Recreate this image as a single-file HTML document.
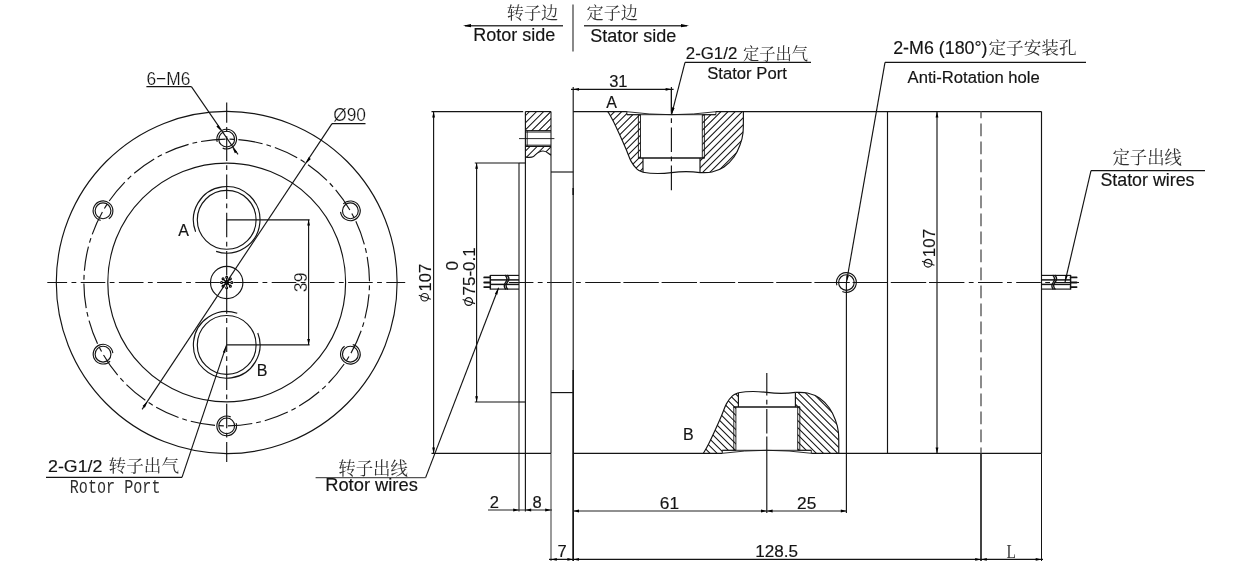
<!DOCTYPE html>
<html><head><meta charset="utf-8"><title>Slip ring drawing</title>
<style>html,body{margin:0;padding:0;background:#fff}svg{display:block}</style>
</head><body>
<svg width="1235" height="571" viewBox="0 0 1235 571" style="will-change:transform">
<rect width="1235" height="571" fill="#fff"/>
<g fill="none" stroke="#141414" stroke-width="1.15">
<ellipse cx="226.7" cy="282.5" rx="170.4" ry="171.08"/>
<ellipse cx="226.7" cy="282.5" rx="118.9" ry="119.38"/>
<ellipse cx="226.7" cy="282.5" rx="142.8" ry="143.37" stroke-dasharray="24.6 4 4.84 4" stroke-dashoffset="25.68"/>
<line x1="47.3" y1="282.5" x2="405.2" y2="282.5" stroke-dasharray="24.6 4.4 4.8 4.4" stroke-dashoffset="4.8"/>
<line x1="226.7" y1="102.6" x2="226.7" y2="462" stroke-dasharray="24.6 4.4 4.8 4.4" stroke-dashoffset="4.5"/>
<circle cx="226.7" cy="282.5" r="16.2"/>
<circle cx="231.85" cy="282.5" r="1" stroke="#000" stroke-width="1.05"/>
<circle cx="230.34" cy="286.14" r="1" stroke="#000" stroke-width="1.05"/>
<circle cx="226.7" cy="287.65" r="1" stroke="#000" stroke-width="1.05"/>
<circle cx="223.06" cy="286.14" r="1" stroke="#000" stroke-width="1.05"/>
<circle cx="221.55" cy="282.5" r="1" stroke="#000" stroke-width="1.05"/>
<circle cx="223.06" cy="278.86" r="1" stroke="#000" stroke-width="1.05"/>
<circle cx="226.7" cy="277.35" r="1" stroke="#000" stroke-width="1.05"/>
<circle cx="230.34" cy="278.86" r="1" stroke="#000" stroke-width="1.05"/>
<circle cx="226.7" cy="282.5" r="2.2" fill="#000" stroke="none"/>
<line x1="226.7" y1="282.5" x2="230.8" y2="282.5" stroke="#000" stroke-width="1.2"/>
<line x1="226.7" y1="282.5" x2="229.6" y2="285.4" stroke="#000" stroke-width="1.2"/>
<line x1="226.7" y1="282.5" x2="226.7" y2="286.6" stroke="#000" stroke-width="1.2"/>
<line x1="226.7" y1="282.5" x2="223.8" y2="285.4" stroke="#000" stroke-width="1.2"/>
<line x1="226.7" y1="282.5" x2="222.6" y2="282.5" stroke="#000" stroke-width="1.2"/>
<line x1="226.7" y1="282.5" x2="223.8" y2="279.6" stroke="#000" stroke-width="1.2"/>
<line x1="226.7" y1="282.5" x2="226.7" y2="278.4" stroke="#000" stroke-width="1.2"/>
<line x1="226.7" y1="282.5" x2="229.6" y2="279.6" stroke="#000" stroke-width="1.2"/>
<circle cx="226.7" cy="139.13" r="7.9"/>
<path d="M217.23 141.84 A9.85 9.85 0 1 1 222.69 148.13" fill="none"/>
<circle cx="350.37" cy="210.81" r="7.9"/>
<path d="M343.28 203.97 A9.85 9.85 0 1 1 340.57 211.84" fill="none"/>
<circle cx="350.37" cy="354.19" r="7.9"/>
<path d="M352.75 344.63 A9.85 9.85 0 1 1 344.58 346.22" fill="none"/>
<circle cx="226.7" cy="425.87" r="7.9"/>
<path d="M236.17 423.16 A9.85 9.85 0 1 1 230.71 416.87" fill="none"/>
<circle cx="103.03" cy="354.19" r="7.9"/>
<path d="M110.12 361.03 A9.85 9.85 0 1 1 112.83 353.16" fill="none"/>
<circle cx="103.03" cy="210.81" r="7.9"/>
<path d="M100.65 220.37 A9.85 9.85 0 1 1 108.82 218.78" fill="none"/>
<circle cx="226.7" cy="219.8" r="29.4"/>
<path d="M195.61 231.73 A33.3 33.3 0 1 1 216.13 251.38" fill="none"/>
<circle cx="226.7" cy="344.9" r="29.4"/>
<path d="M257.79 332.97 A33.3 33.3 0 1 1 237.27 313.32" fill="none"/>
<line x1="226.7" y1="219.8" x2="309.6" y2="219.8"/>
<line x1="226.7" y1="344.9" x2="309.6" y2="344.9"/>
<line x1="308.6" y1="219.8" x2="308.6" y2="344.9"/>
<path d="M308.6 219.8 L310 225.6 L307.2 225.6 Z" fill="#000" stroke="none"/>
<path d="M308.6 344.9 L307.2 339.1 L310 339.1 Z" fill="#000" stroke="none"/>
<line x1="332" y1="123.6" x2="142.09" y2="409.37"/>
<line x1="332" y1="123.6" x2="365.5" y2="123.6"/>
<path d="M306.04 163.53 L308.48 157.35 L310.81 158.9 Z" fill="#000" stroke="none"/>
<path d="M147.36 401.47 L144.92 407.65 L142.59 406.1 Z" fill="#000" stroke="none"/>
<line x1="146.4" y1="86.6" x2="191.4" y2="86.6"/>
<line x1="191.4" y1="86.6" x2="238" y2="154.4"/>
<path d="M221.12 131.01 L216.37 126.39 L218.51 124.92 Z" fill="#000" stroke="none"/>
<path d="M232.28 147.25 L237.03 151.87 L234.89 153.34 Z" fill="#000" stroke="none"/>
<line x1="46" y1="477.4" x2="182" y2="477.4"/>
<line x1="182" y1="477.4" x2="226.4" y2="345.4"/>
<path d="M226.4 345.4 L225.15 352.89 L222.87 352.13 Z" fill="#000" stroke="none"/>
<line x1="573.2" y1="87" x2="573.2" y2="561"/>
<line x1="573.2" y1="370" x2="573.2" y2="561" stroke-width="1.5"/>
<line x1="573.2" y1="188" x2="573.2" y2="195" stroke-width="1.6"/>
<line x1="573.2" y1="111.6" x2="626.9" y2="111.6"/>
<line x1="715.9" y1="111.6" x2="1041.5" y2="111.6"/>
<line x1="573.2" y1="453.4" x2="722.3" y2="453.4"/>
<line x1="811.3" y1="453.4" x2="1041.5" y2="453.4"/>
<line x1="1041.5" y1="111.6" x2="1041.5" y2="453.4"/>
<line x1="1041.5" y1="453.4" x2="1041.5" y2="561" stroke-width="1"/>
<line x1="887.5" y1="111.6" x2="887.5" y2="453.4"/>
<line x1="981" y1="111.6" x2="981" y2="453.4" stroke="#666" stroke-width="1.5" stroke-dasharray="12.8 5.2" stroke-dashoffset="6.2"/>
<line x1="981" y1="453.4" x2="981" y2="561" stroke-width="1.6"/>
<line x1="509" y1="282.5" x2="961.5" y2="282.5" stroke-dasharray="24.6 4.4 4.8 4.4" stroke-dashoffset="0.2"/>
<line x1="596" y1="282.5" x2="1080" y2="282.5" stroke-dasharray="24.6 4.4 4.8 4.4" stroke-dashoffset="0"/>
<line x1="525.4" y1="111.6" x2="525.4" y2="511.5"/>
<line x1="551" y1="111.6" x2="551" y2="453.4" stroke="#2a2a2a"/>
<line x1="551" y1="453.4" x2="551" y2="561" stroke="#585858" stroke-width="1.2"/>
<line x1="525.4" y1="111.6" x2="551" y2="111.6"/>
<line x1="519" y1="163" x2="519" y2="402" stroke="#222"/>
<line x1="519" y1="402" x2="519" y2="511.5" stroke="#333" stroke-width="1.15"/>
<line x1="519" y1="163" x2="525.4" y2="163"/>
<line x1="519" y1="402" x2="525.4" y2="402"/>
<line x1="551" y1="172" x2="573.2" y2="172"/>
<line x1="551" y1="392.6" x2="573.2" y2="392.6"/>
<clipPath id="c1"><path d="M525.4 111.6 H551 V131 H525.4 Z"/></clipPath>
<path clip-path="url(#c1)" stroke-width="1.05" d="M502.03 132 L523.03 111 M509.12 132 L530.12 111 M516.21 132 L537.21 111 M523.3 132 L544.3 111 M530.39 132 L551.39 111 M537.48 132 L558.48 111 M544.57 132 L565.57 111 M551.66 132 L572.66 111 M558.75 132 L579.75 111"/>
<clipPath id="c2"><path d="M525.4 146.3 H551 V155.2 C548.5 154 547 151 543 151 C538.5 151 536.5 154 533.5 156.5 C531 158 529 157.6 525.4 157 Z"/></clipPath>
<path clip-path="url(#c2)" stroke-width="1.05" d="M510.48 159 L523.48 146 M517.57 159 L530.57 146 M524.66 159 L537.66 146 M531.75 159 L544.75 146 M538.84 159 L551.84 146 M545.93 159 L558.93 146 M553.02 159 L566.02 146"/>
<path d="M525.4 157 C529 157.6 531 158 533.5 156.5 C536.5 154 538.5 151 543 151 C547 151 548.5 154 551 155.2" fill="none"/>
<line x1="525.4" y1="130.6" x2="551" y2="130.6" stroke-width="1"/>
<line x1="525.4" y1="132" x2="551" y2="132" stroke-width="1"/>
<line x1="525.4" y1="145.2" x2="551" y2="145.2" stroke-width="1"/>
<line x1="525.4" y1="146.5" x2="551" y2="146.5" stroke-width="1"/>
<line x1="527.2" y1="131" x2="527.2" y2="146.3" stroke-width="0.9"/>
<line x1="519" y1="138.6" x2="554.4" y2="138.6" stroke-width="0.9"/>
<line x1="433.6" y1="111.6" x2="433.6" y2="453.4"/>
<path d="M433.6 111.6 L435 117.4 L432.2 117.4 Z" fill="#000" stroke="none"/>
<path d="M433.6 453.4 L432.2 447.6 L435 447.6 Z" fill="#000" stroke="none"/>
<line x1="431.5" y1="111.6" x2="523.2" y2="111.6"/>
<line x1="431.5" y1="453.4" x2="551" y2="453.4"/>
<line x1="476.6" y1="163" x2="476.6" y2="402"/>
<path d="M476.6 163 L478 168.8 L475.2 168.8 Z" fill="#000" stroke="none"/>
<path d="M476.6 402 L475.2 396.2 L478 396.2 Z" fill="#000" stroke="none"/>
<line x1="474.8" y1="163" x2="519" y2="163"/>
<line x1="474.8" y1="402" x2="519" y2="402"/>
<line x1="490.3" y1="275.4" x2="519" y2="275.4" stroke-width="1.15"/>
<line x1="490.3" y1="279.9" x2="519" y2="279.9" stroke-width="1.5"/>
<line x1="490.3" y1="284.4" x2="519" y2="284.4" stroke-width="1.5"/>
<line x1="490.3" y1="289.1" x2="519" y2="289.1" stroke-width="1.15"/>
<line x1="490.3" y1="274.9" x2="490.3" y2="289.6" stroke-width="1.4"/>
<line x1="484.2" y1="277.4" x2="490.3" y2="277.4" stroke-width="1.8" stroke-linecap="round"/>
<line x1="484.2" y1="282.5" x2="490.3" y2="282.5" stroke-width="1.8" stroke-linecap="round"/>
<line x1="484.2" y1="287.1" x2="490.3" y2="287.1" stroke-width="1.8" stroke-linecap="round"/>
<path d="M504.9 275 C507.4 277.4 507.4 280 505.6 282.3 C503.8 284.6 503.8 287 505.8 289.5" fill="none" stroke-width="1.35"/>
<path d="M507.0 275 C509.4 277.4 509.4 280 507.4 282.3 C505.4 284.6 505.6 287 507.8 289.5" fill="none" stroke-width="1.35"/>
<line x1="315.6" y1="477.6" x2="425.6" y2="477.6" stroke="#555"/>
<line x1="425.6" y1="477.6" x2="498.6" y2="287.8"/>
<path d="M498.6 287.8 L497.3 294.8 L494.87 293.87 Z" fill="#000" stroke="none"/>
<line x1="1041.5" y1="275.4" x2="1070.6" y2="275.4" stroke-width="1.15"/>
<line x1="1041.5" y1="279.9" x2="1070.6" y2="279.9" stroke-width="1.5"/>
<line x1="1041.5" y1="284.4" x2="1070.6" y2="284.4" stroke-width="1.5"/>
<line x1="1041.5" y1="289.1" x2="1070.6" y2="289.1" stroke-width="1.15"/>
<line x1="1070.6" y1="274.9" x2="1070.6" y2="289.6" stroke-width="1.4"/>
<line x1="1070.6" y1="277.4" x2="1076.6" y2="277.4" stroke-width="1.8" stroke-linecap="round"/>
<line x1="1070.6" y1="282.5" x2="1076.6" y2="282.5" stroke-width="1.8" stroke-linecap="round"/>
<line x1="1070.6" y1="287.1" x2="1076.6" y2="287.1" stroke-width="1.8" stroke-linecap="round"/>
<path d="M1052.6 275 C1055 277.4 1055 280 1053.2 282.3 C1051.4 284.6 1051.4 287 1053.4 289.5" fill="none" stroke-width="1.35"/>
<path d="M1054.7 275 C1057 277.4 1057 280 1055 282.3 C1053 284.6 1053.2 287 1055.4 289.5" fill="none" stroke-width="1.35"/>
<line x1="1091" y1="170.6" x2="1205" y2="170.6"/>
<line x1="1091" y1="170.6" x2="1065" y2="282"/>
<path d="M1065 282 L1065.42 274.91 L1067.76 275.46 Z" fill="#000" stroke="none"/>
<clipPath id="c3"><path d="M607.9 111.6 C608.78 113.18 611.22 117.18 613.2 121.1 C615.18 125.02 617.67 130.43 619.8 135.1 C621.93 139.77 624.13 144.77 626 149.1 C627.87 153.43 629.17 157.77 631 161.1 C632.83 164.43 635 167.25 637 169.1 C639 170.95 642 171.68 643 172.2 L643 158 L640.5 158 L640.5 114.7 L626.9 114.7 L626.9 111.8 Z"/></clipPath>
<path clip-path="url(#c3)" stroke-width="1.05" d="M537.42 174.6 L600.42 111.6 M544.51 174.6 L607.51 111.6 M551.6 174.6 L614.6 111.6 M558.69 174.6 L621.69 111.6 M565.78 174.6 L628.78 111.6 M572.87 174.6 L635.87 111.6 M579.96 174.6 L642.96 111.6 M587.05 174.6 L650.05 111.6 M594.14 174.6 L657.14 111.6 M601.23 174.6 L664.23 111.6 M608.32 174.6 L671.32 111.6 M615.41 174.6 L678.41 111.6 M622.5 174.6 L685.5 111.6 M629.59 174.6 L692.59 111.6 M636.68 174.6 L699.68 111.6 M643.77 174.6 L706.77 111.6 M650.86 174.6 L713.86 111.6"/>
<clipPath id="c4"><path d="M700 172.6 C702 172.5 708 172.93 712 172 C716 171.07 720.33 169.5 724 167 C727.67 164.5 731.33 160.67 734 157 C736.67 153.33 738.5 149 740 145 C741.5 141 742.43 138.57 743 133 C743.57 127.43 743.33 115.17 743.4 111.6 L715.9 111.8 L715.9 114.7 L702.3 114.7 L702.3 158 L700 158 L700 172.6 Z"/></clipPath>
<path clip-path="url(#c4)" stroke-width="1.05" d="M629.59 174.6 L692.59 111.6 M636.68 174.6 L699.68 111.6 M643.77 174.6 L706.77 111.6 M650.86 174.6 L713.86 111.6 M657.95 174.6 L720.95 111.6 M665.04 174.6 L728.04 111.6 M672.13 174.6 L735.13 111.6 M679.22 174.6 L742.22 111.6 M686.31 174.6 L749.31 111.6 M693.4 174.6 L756.4 111.6 M700.49 174.6 L763.49 111.6 M707.58 174.6 L770.58 111.6 M714.67 174.6 L777.67 111.6 M721.76 174.6 L784.76 111.6 M728.85 174.6 L791.85 111.6 M735.94 174.6 L798.94 111.6 M743.03 174.6 L806.03 111.6 M750.12 174.6 L813.12 111.6"/>
<path d="M607.9 111.6 C608.78 113.18 611.22 117.18 613.2 121.1 C615.18 125.02 617.67 130.43 619.8 135.1 C621.93 139.77 624.13 144.77 626 149.1 C627.87 153.43 629.17 157.77 631 161.1 C632.83 164.43 635 167.25 637 169.1 C639 170.95 642 171.68 643 172.2" fill="none"/>
<path d="M700 172.6 C702 172.5 708 172.93 712 172 C716 171.07 720.33 169.5 724 167 C727.67 164.5 731.33 160.67 734 157 C736.67 153.33 738.5 149 740 145 C741.5 141 742.43 138.57 743 133 C743.57 127.43 743.33 115.17 743.4 111.6" fill="none"/>
<path d="M643 172.2 C653.4 174.2 662.4 173.8 671.4 172.6 S690.4 171.2 700 172.6" fill="none"/>
<line x1="638.4" y1="114.7" x2="638.4" y2="158" stroke-width="0.9"/>
<line x1="640.5" y1="114.7" x2="640.5" y2="158" stroke-width="0.9"/>
<line x1="702.3" y1="114.7" x2="702.3" y2="158" stroke-width="0.9"/>
<line x1="704.4" y1="114.7" x2="704.4" y2="158" stroke-width="0.9"/>
<line x1="638.1" y1="158" x2="704.7" y2="158" stroke-width="1.5"/>
<line x1="643" y1="158" x2="643" y2="172.2"/>
<line x1="700" y1="158" x2="700" y2="172.6"/>
<path d="M626.9 111.6 L626.9 114.7 L640.5 114.7" fill="none" stroke-width="0.9"/>
<path d="M715.9 111.6 L715.9 114.7 L702.3 114.7" fill="none" stroke-width="0.9"/>
<path d="M626.9 111.7 Q671.4 117.7 715.9 111.7" fill="none" stroke-width="0.9"/>
<line x1="626.9" y1="114.7" x2="715.9" y2="114.7" stroke-width="0.9"/>
<clipPath id="c5"><path d="M703.3 453.4 C704.18 451.82 706.62 447.82 708.6 443.9 C710.58 439.98 713.07 434.57 715.2 429.9 C717.33 425.23 719.53 420.23 721.4 415.9 C723.27 411.57 724.57 407.23 726.4 403.9 C728.23 400.57 730.4 397.75 732.4 395.9 C734.4 394.05 737.4 393.32 738.4 392.8 L738.4 407 L735.9 407 L735.9 450.3 L722.3 450.3 L722.3 453.2 Z"/></clipPath>
<path clip-path="url(#c5)" stroke-width="1.05" d="M632.87 390.4 L695.87 453.4 M639.96 390.4 L702.96 453.4 M647.05 390.4 L710.05 453.4 M654.14 390.4 L717.14 453.4 M661.23 390.4 L724.23 453.4 M668.32 390.4 L731.32 453.4 M675.41 390.4 L738.41 453.4 M682.5 390.4 L745.5 453.4 M689.59 390.4 L752.59 453.4 M696.68 390.4 L759.68 453.4 M703.77 390.4 L766.77 453.4 M710.86 390.4 L773.86 453.4 M717.95 390.4 L780.95 453.4 M725.04 390.4 L788.04 453.4 M732.13 390.4 L795.13 453.4 M739.22 390.4 L802.22 453.4 M746.31 390.4 L809.31 453.4"/>
<clipPath id="c6"><path d="M795.4 392.4 C797.4 392.5 803.4 392.07 807.4 393 C811.4 393.93 815.73 395.5 819.4 398 C823.07 400.5 826.73 404.33 829.4 408 C832.07 411.67 833.9 416 835.4 420 C836.9 424 837.83 426.43 838.4 432 C838.97 437.57 838.73 449.83 838.8 453.4 L811.3 453.2 L811.3 450.3 L797.7 450.3 L797.7 407 L795.4 407 L795.4 392.4 Z"/></clipPath>
<path clip-path="url(#c6)" stroke-width="1.05" d="M725.04 390.4 L788.04 453.4 M732.13 390.4 L795.13 453.4 M739.22 390.4 L802.22 453.4 M746.31 390.4 L809.31 453.4 M753.4 390.4 L816.4 453.4 M760.49 390.4 L823.49 453.4 M767.58 390.4 L830.58 453.4 M774.67 390.4 L837.67 453.4 M781.76 390.4 L844.76 453.4 M788.85 390.4 L851.85 453.4 M795.94 390.4 L858.94 453.4 M803.03 390.4 L866.03 453.4 M810.12 390.4 L873.12 453.4 M817.21 390.4 L880.21 453.4 M824.3 390.4 L887.3 453.4 M831.39 390.4 L894.39 453.4 M838.48 390.4 L901.48 453.4 M845.57 390.4 L908.57 453.4"/>
<path d="M703.3 453.4 C704.18 451.82 706.62 447.82 708.6 443.9 C710.58 439.98 713.07 434.57 715.2 429.9 C717.33 425.23 719.53 420.23 721.4 415.9 C723.27 411.57 724.57 407.23 726.4 403.9 C728.23 400.57 730.4 397.75 732.4 395.9 C734.4 394.05 737.4 393.32 738.4 392.8" fill="none"/>
<path d="M795.4 392.4 C797.4 392.5 803.4 392.07 807.4 393 C811.4 393.93 815.73 395.5 819.4 398 C823.07 400.5 826.73 404.33 829.4 408 C832.07 411.67 833.9 416 835.4 420 C836.9 424 837.83 426.43 838.4 432 C838.97 437.57 838.73 449.83 838.8 453.4" fill="none"/>
<path d="M738.4 392.8 C748.8 390.8 757.8 391.2 766.8 392.4 S785.8 393.8 795.4 392.4" fill="none"/>
<line x1="733.8" y1="450.3" x2="733.8" y2="407" stroke-width="0.9"/>
<line x1="735.9" y1="450.3" x2="735.9" y2="407" stroke-width="0.9"/>
<line x1="797.7" y1="450.3" x2="797.7" y2="407" stroke-width="0.9"/>
<line x1="799.8" y1="450.3" x2="799.8" y2="407" stroke-width="0.9"/>
<line x1="733.5" y1="407" x2="800.1" y2="407" stroke-width="1.5"/>
<line x1="738.4" y1="407" x2="738.4" y2="392.8"/>
<line x1="795.4" y1="407" x2="795.4" y2="392.4"/>
<path d="M722.3 453.4 L722.3 450.3 L735.9 450.3" fill="none" stroke-width="0.9"/>
<path d="M811.3 453.4 L811.3 450.3 L797.7 450.3" fill="none" stroke-width="0.9"/>
<path d="M722.3 453.3 Q766.8 447.3 811.3 453.3" fill="none" stroke-width="0.9"/>
<line x1="722.3" y1="450.3" x2="811.3" y2="450.3" stroke-width="0.9"/>
<line x1="671.4" y1="87" x2="671.4" y2="111.6"/>
<line x1="671.4" y1="89.2" x2="671.4" y2="192.4" stroke-dasharray="24.6 4.4 4.8 4.4" stroke-dashoffset="0"/>
<line x1="766.8" y1="373" x2="766.8" y2="434" stroke-dasharray="24.6 4.4 4.8 4.4" stroke-dashoffset="2.2"/>
<line x1="766.8" y1="436.5" x2="766.8" y2="513"/>
<line x1="571" y1="89.3" x2="673.6" y2="89.3"/>
<path d="M573.2 89.3 L579 87.9 L579 90.7 Z" fill="#000" stroke="none"/>
<path d="M671.4 89.3 L665.6 90.7 L665.6 87.9 Z" fill="#000" stroke="none"/>
<line x1="685" y1="62.4" x2="811" y2="62.4"/>
<line x1="685" y1="62.4" x2="671.6" y2="114.4"/>
<path d="M671.6 114.4 L672.09 107.3 L674.61 107.95 Z" fill="#000" stroke="none"/>
<circle cx="846.4" cy="282.5" r="7.8"/>
<path d="M836.88 285.23 A9.9 9.9 0 1 1 842.37 291.54" fill="none"/>
<line x1="846.4" y1="282.5" x2="846.4" y2="513"/>
<line x1="885" y1="62.4" x2="1086" y2="62.4"/>
<line x1="885" y1="62.4" x2="846.5" y2="282"/>
<path d="M846.5 282 L846.34 275.37 L848.9 275.82 Z" fill="#000" stroke="none"/>
<line x1="937" y1="111.6" x2="937" y2="453.4"/>
<path d="M937 111.6 L938.4 117.4 L935.6 117.4 Z" fill="#000" stroke="none"/>
<path d="M937 453.4 L935.6 447.6 L938.4 447.6 Z" fill="#000" stroke="none"/>
<line x1="488" y1="510" x2="552" y2="510" stroke="#222"/>
<path d="M519 510 L513.2 511.4 L513.2 508.6 Z" fill="#000" stroke="none"/>
<path d="M525.4 510 L531.2 508.6 L531.2 511.4 Z" fill="#000" stroke="none"/>
<path d="M551 510 L545.2 511.4 L545.2 508.6 Z" fill="#000" stroke="none"/>
<line x1="573.2" y1="511" x2="846.6" y2="511" stroke="#222"/>
<path d="M573.2 511 L579 509.6 L579 512.4 Z" fill="#000" stroke="none"/>
<path d="M766.8 511 L761 512.4 L761 509.6 Z" fill="#000" stroke="none"/>
<path d="M766.8 511 L772.6 509.6 L772.6 512.4 Z" fill="#000" stroke="none"/>
<path d="M846.6 511 L840.8 512.4 L840.8 509.6 Z" fill="#000" stroke="none"/>
<line x1="549" y1="559.4" x2="1043" y2="559.4"/>
<path d="M551 559.4 L556.8 558 L556.8 560.8 Z" fill="#000" stroke="none"/>
<path d="M573.2 559.4 L567.4 560.8 L567.4 558 Z" fill="#000" stroke="none"/>
<path d="M573.2 559.4 L579 558 L579 560.8 Z" fill="#000" stroke="none"/>
<path d="M981 559.4 L975.2 560.8 L975.2 558 Z" fill="#000" stroke="none"/>
<path d="M981 559.4 L986.8 558 L986.8 560.8 Z" fill="#000" stroke="none"/>
<path d="M1041.5 559.4 L1035.7 560.8 L1035.7 558 Z" fill="#000" stroke="none"/>
<line x1="465" y1="25.7" x2="563" y2="25.7" stroke="#3c3c3c" stroke-width="1.5"/>
<path d="M463 25.7 L471 24.1 L471 27.3 Z" fill="#000" stroke="none"/>
<line x1="584" y1="25.7" x2="687" y2="25.7" stroke="#3c3c3c" stroke-width="1.5"/>
<path d="M689 25.7 L681 27.3 L681 24.1 Z" fill="#000" stroke="none"/>
<line x1="573" y1="4.4" x2="573" y2="51.6" stroke="#5c5c5c" stroke-width="1.45"/>
</g>
<g stroke="none" fill="#141414">
<text x="146.4" y="85.4" style="font-family:'Liberation Sans',sans-serif" font-size="19" text-anchor="start" fill="#141414" textLength="44" lengthAdjust="spacingAndGlyphs" stroke="#fff" stroke-width="0.22">6&#8722;M6</text>
<text x="333.2" y="121" style="font-family:'Liberation Sans',sans-serif" font-size="19" text-anchor="start" fill="#141414" textLength="32.8" lengthAdjust="spacingAndGlyphs" stroke="#fff" stroke-width="0.22">&#216;90</text>
<text x="0" y="0" style="font-family:'Liberation Sans',sans-serif" font-size="19" text-anchor="start" fill="#141414" transform="translate(306.6 292.2) rotate(-90)" textLength="19.8" lengthAdjust="spacingAndGlyphs" stroke="#fff" stroke-width="0.22">39</text>
<text x="178.2" y="235.6" style="font-family:'Liberation Sans',sans-serif" font-size="16" text-anchor="start" fill="#141414" stroke="#141414" stroke-width="0.16">A</text>
<text x="256.8" y="375.6" style="font-family:'Liberation Sans',sans-serif" font-size="16" text-anchor="start" fill="#141414" stroke="#141414" stroke-width="0.16">B</text>
<text x="0" y="0" style="font-family:'Liberation Sans',sans-serif" font-size="17.1" text-anchor="start" fill="#141414" stroke="#141414" stroke-width="0.16" transform="translate(48 471.6) scale(1.04 1)">2-G1/2</text>
<text x="108.6" y="471.63" font-size="17.39" fill="#303030" stroke="none" style="font-family:'Liberation Serif','Noto Serif CJK SC',serif" textLength="70.4" lengthAdjust="spacingAndGlyphs">转子出气</text>
<text x="0" y="0" style="font-family:'Liberation Mono',monospace" font-size="15" text-anchor="start" fill="#2e2e2e" stroke="none" transform="translate(69.8 492.8) scale(1.008 1.32)">Rotor Port</text>
<text x="506.7" y="19.23" font-size="17.39" fill="#303030" stroke="none" style="font-family:'Liberation Serif','Noto Serif CJK SC',serif" textLength="51.6" lengthAdjust="spacingAndGlyphs">转子边</text>
<text x="586.5" y="19.27" font-size="17.51" fill="#303030" stroke="none" style="font-family:'Liberation Serif','Noto Serif CJK SC',serif" textLength="51.4" lengthAdjust="spacingAndGlyphs">定子边</text>
<text x="0" y="0" style="font-family:'Liberation Sans',sans-serif" font-size="17.5" text-anchor="start" fill="#141414" stroke="#141414" stroke-width="0.16" transform="translate(473.2 41) scale(1.03 1)">Rotor side</text>
<text x="0" y="0" style="font-family:'Liberation Sans',sans-serif" font-size="17.5" text-anchor="start" fill="#141414" stroke="#141414" stroke-width="0.16" transform="translate(590.2 41.5) scale(1.03 1)">Stator side</text>
<text x="609.2" y="87" style="font-family:'Liberation Sans',sans-serif" font-size="16.5" text-anchor="start" fill="#141414" stroke="#141414" stroke-width="0.16">31</text>
<text x="606.2" y="107.8" style="font-family:'Liberation Sans',sans-serif" font-size="16" text-anchor="start" fill="#141414" stroke="#141414" stroke-width="0.16">A</text>
<text x="0" y="0" style="font-family:'Liberation Sans',sans-serif" font-size="16.2" text-anchor="start" fill="#141414" stroke="#141414" stroke-width="0.16" transform="translate(685.8 59.1) scale(1.04 1)">2-G1/2</text>
<text x="742.9" y="59.64" font-size="16.63" fill="#303030" stroke="none" style="font-family:'Liberation Serif','Noto Serif CJK SC',serif" textLength="65.2" lengthAdjust="spacingAndGlyphs">定子出气</text>
<text x="0" y="0" style="font-family:'Liberation Sans',sans-serif" font-size="16.5" text-anchor="start" fill="#141414" stroke="#141414" stroke-width="0.16" transform="translate(707.2 79.4) scale(1.01 1)">Stator Port</text>
<text x="0" y="0" style="font-family:'Liberation Sans',sans-serif" font-size="17.5" text-anchor="start" fill="#141414" stroke="#141414" stroke-width="0.16" transform="translate(893.2 53.6) scale(1.02 1)">2-M6 (180&#176;)</text>
<text x="988.4" y="54.21" font-size="17.59" fill="#303030" stroke="none" style="font-family:'Liberation Serif','Noto Serif CJK SC',serif" textLength="88.2" lengthAdjust="spacingAndGlyphs">定子安装孔</text>
<text x="0" y="0" style="font-family:'Liberation Sans',sans-serif" font-size="16" text-anchor="start" fill="#141414" stroke="#141414" stroke-width="0.16" transform="translate(907.6 82.7) scale(1.04 1)">Anti-Rotation hole</text>
<text x="1112.4" y="164.23" font-size="17.7" fill="#303030" stroke="none" style="font-family:'Liberation Serif','Noto Serif CJK SC',serif" textLength="69.6" lengthAdjust="spacingAndGlyphs">定子出线</text>
<text x="0" y="0" style="font-family:'Liberation Sans',sans-serif" font-size="17.5" text-anchor="start" fill="#141414" stroke="#141414" stroke-width="0.16" transform="translate(1100.4 185.6) scale(1.02 1)">Stator wires</text>
<text x="338.2" y="475.39" font-size="17.83" fill="#303030" stroke="none" style="font-family:'Liberation Serif','Noto Serif CJK SC',serif" textLength="69.8" lengthAdjust="spacingAndGlyphs">转子出线</text>
<text x="0" y="0" style="font-family:'Liberation Sans',sans-serif" font-size="17.8" text-anchor="start" fill="#141414" stroke="#141414" stroke-width="0.16" transform="translate(325.2 491.3) scale(1.03 1)">Rotor wires</text>
<text x="683" y="440" style="font-family:'Liberation Sans',sans-serif" font-size="16" text-anchor="start" fill="#141414" stroke="#141414" stroke-width="0.16">B</text>
<text x="489.8" y="507.6" style="font-family:'Liberation Sans',sans-serif" font-size="16.5" text-anchor="start" fill="#141414" stroke="#141414" stroke-width="0.16">2</text>
<text x="532.6" y="507.6" style="font-family:'Liberation Sans',sans-serif" font-size="16.5" text-anchor="start" fill="#141414" stroke="#141414" stroke-width="0.16">8</text>
<text x="557.4" y="556.6" style="font-family:'Liberation Sans',sans-serif" font-size="16.5" text-anchor="start" fill="#141414" stroke="#141414" stroke-width="0.16">7</text>
<text x="0" y="0" style="font-family:'Liberation Sans',sans-serif" font-size="16.5" text-anchor="start" fill="#141414" stroke="#141414" stroke-width="0.16" transform="translate(659.8 508.6) scale(1.05 1)">61</text>
<text x="0" y="0" style="font-family:'Liberation Sans',sans-serif" font-size="16.5" text-anchor="start" fill="#141414" stroke="#141414" stroke-width="0.16" transform="translate(797 508.8) scale(1.05 1)">25</text>
<text x="0" y="0" style="font-family:'Liberation Sans',sans-serif" font-size="16.6" text-anchor="start" fill="#141414" stroke="#141414" stroke-width="0.16" transform="translate(755.2 556.8) scale(1.03 1)">128.5</text>
<text x="0" y="0" style="font-family:'Liberation Serif',serif" font-size="18" text-anchor="start" fill="#3a3a3a" stroke="none" transform="translate(1006.6 557.6) scale(0.86 1)">L</text>
<g transform="translate(431 291.4) rotate(-90)">
<circle cx="-5.86" cy="-6.35" r="3.76" stroke="#141414" stroke-width="1.1" fill="none"/>
<line x1="-7.87" y1="-0.17" x2="-3.84" y2="-12.21" stroke="#141414" stroke-width="1.1"/>
<text x="0" y="0" style="font-family:'Liberation Sans',sans-serif" font-size="16.5" stroke="#141414" stroke-width="0.14">107</text>
</g>
<g transform="translate(475.2 295.5) rotate(-90)">
<circle cx="-6.04" cy="-6.54" r="3.88" stroke="#141414" stroke-width="1.1" fill="none"/>
<line x1="-8.11" y1="-0.17" x2="-3.96" y2="-12.58" stroke="#141414" stroke-width="1.1"/>
<text x="0" y="0" style="font-family:'Liberation Sans',sans-serif" font-size="17" stroke="#141414" stroke-width="0.14">75-0.1</text>
</g>
<text x="0" y="0" style="font-family:'Liberation Sans',sans-serif" font-size="17" text-anchor="start" fill="#141414" stroke="#141414" stroke-width="0.16" transform="translate(458 270.6) rotate(-90)">0</text>
<g transform="translate(934.6 257.2) rotate(-90)">
<circle cx="-6.04" cy="-6.54" r="3.88" stroke="#141414" stroke-width="1.1" fill="none"/>
<line x1="-8.11" y1="-0.17" x2="-3.96" y2="-12.58" stroke="#141414" stroke-width="1.1"/>
<text x="0" y="0" style="font-family:'Liberation Sans',sans-serif" font-size="17" stroke="#141414" stroke-width="0.14">107</text>
</g>
</g>
</svg></body></html>
